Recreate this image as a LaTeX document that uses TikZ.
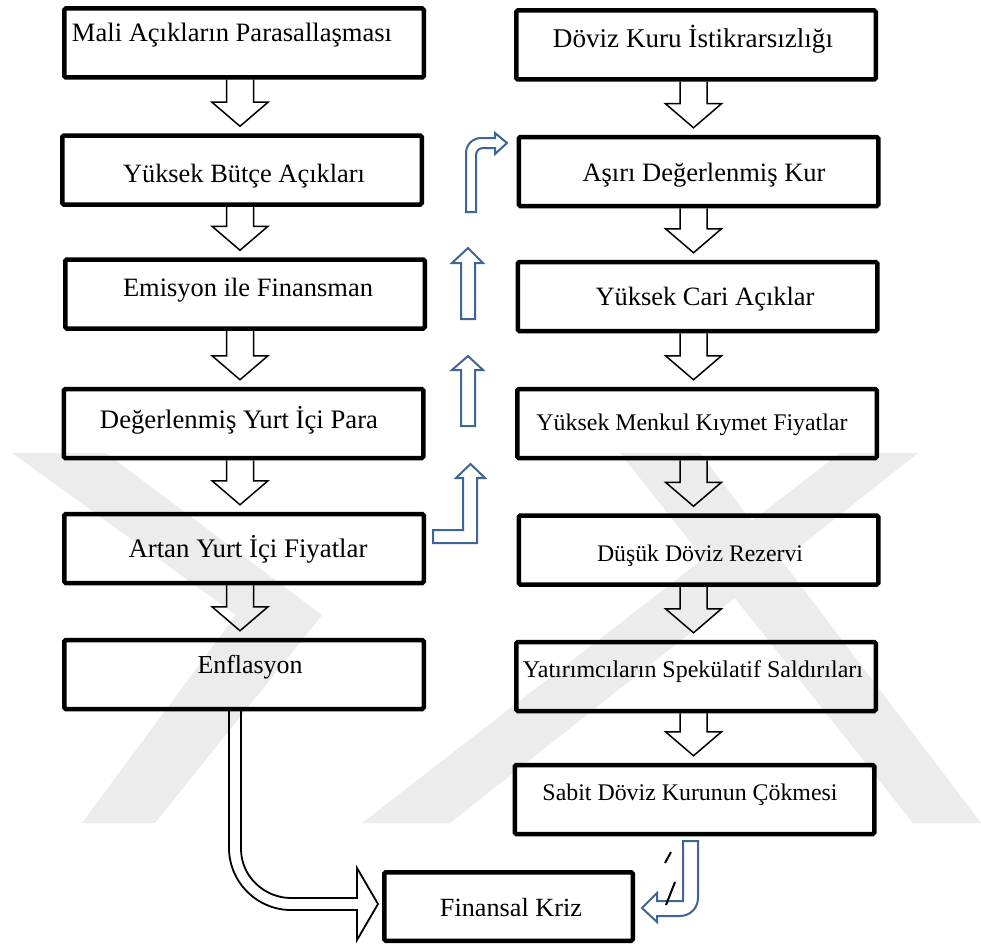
\documentclass[tikz,border=0pt]{standalone}
\usepackage{fontspec}
\usepackage{graphicx}
\setmainfont{Liberation Serif}
\usetikzlibrary{calc}
\definecolor{wm}{RGB}{236,236,236}
\definecolor{ablue}{RGB}{62,100,152}
\tikzset{
  box/.style={draw=black, line width=4.5pt, rounded corners=1.5pt, inner sep=0pt,
              minimum width=359.5pt, minimum height=69pt},
  lbl/.style={inner sep=0pt, anchor=base, text=black},
  blk/.style={draw=black, line width=1.5pt, line join=miter},
  blu/.style={draw=ablue, line width=2pt, line join=miter},
  wmark/.style={fill=wm, draw=none},
  slash/.style={draw=black, line width=2pt}
}
\newcommand\dnarrow[3]{%
  \draw[blk] let \p1=(#1.south), \p2=(#2.north) in
    (#3pt-13.5pt,\y1) -- (#3pt-13.5pt,\y2+31pt) -- (#3pt-28pt,\y2+31pt) --
    (#3pt,\y2+7pt) -- (#3pt+28pt,\y2+31pt) -- (#3pt+13.5pt,\y2+31pt) --
    (#3pt+13.5pt,\y1);}
\begin{document}
\begin{tikzpicture}[x=1pt,y=-1pt]
\useasboundingbox (0,0) rectangle (981,947);
\fill[white] (0,0) rectangle (981,947);
% watermark
\path[wmark] (12,453) -- (106,453) -- (322,615) -- (155,823) -- (82,823) -- (236,615) -- cycle;
\path[wmark] (362,823) -- (450,823) -- (918,453) -- (840,453) -- cycle;
\path[wmark] (620,453) -- (700,453) -- (981,823) -- (913,823) -- cycle;
% left column
\node[box] (L1) at (244,43) {};
\node[box] (L2) at (242,170) {};
\node[box] (L3) at (245,294) {};
\node[box] (L4) at (243.5,423.5) {};
\node[box] (L5) at (244,548.5) {};
\node[box] (L6) at (244,674.5) {};
% right column
\node[box] (R1) at (696,45) {};
\node[box] (R2) at (698.5,171.5) {};
\node[box] (R3) at (697.5,296.5) {};
\node[box] (R4) at (697,423.5) {};
\node[box] (R5) at (698.5,550) {};
\node[box] (R6) at (696,676.5) {};
\node[box] (R7) at (694.5,799.5) {};
\node[box, minimum width=248.5pt, minimum height=68.5pt] (F) at (508.5,906.5) {};
% labels
\node[lbl] (tL1) at (232,42) {\resizebox{320pt}{!}{Mali Açıkların Parasallaşması}};
\node[lbl] (tL2) at (244,182) {\resizebox{242pt}{!}{Yüksek Bütçe Açıkları}};
\node[lbl] (tL3) at (248,296) {\resizebox{250pt}{!}{Emisyon ile Finansman}};
\node[lbl] (tL4) at (239,428) {\resizebox{278pt}{!}{Değerlenmiş Yurt İçi Para}};
\node[lbl] (tL5) at (248,557) {\resizebox{239pt}{!}{Artan Yurt İçi Fiyatlar}};
\node[lbl] (tL6) at (250,673) {\resizebox{105pt}{!}{Enflasyon}};
\node[lbl] (tR1) at (693,48) {\resizebox{280pt}{!}{Döviz Kuru İstikrarsızlığı}};
\node[lbl] (tR2) at (704,181) {\resizebox{243pt}{!}{Aşırı Değerlenmiş Kur}};
\node[lbl] (tR3) at (705,305) {\resizebox{219pt}{!}{Yüksek Cari Açıklar}};
\node[lbl] (tR4) at (692,430) {\resizebox{311pt}{!}{Yüksek Menkul Kıymet Fiyatlar}};
\node[lbl] (tR5) at (700,561) {\resizebox{206pt}{!}{Düşük Döviz Rezervi}};
\node[lbl] (tR6) at (693,677) {\resizebox{340pt}{!}{Yatırımcıların Spekülatif Saldırıları}};
\node[lbl] (tR7) at (690,800) {\resizebox{295pt}{!}{Sabit Döviz Kurunun Çökmesi}};
\node[lbl] (tF) at (511,916) {\resizebox{142pt}{!}{Finansal Kriz}};
% down block arrows
\dnarrow{L1}{L2}{240}
\dnarrow{L2}{L3}{240}
\dnarrow{L3}{L4}{240}
\dnarrow{L4}{L5}{240}
\dnarrow{L5}{L6}{240}
\dnarrow{R1}{R2}{693.5}
\dnarrow{R2}{R3}{693.5}
\dnarrow{R3}{R4}{693.5}
\dnarrow{R4}{R5}{693.5}
\dnarrow{R5}{R6}{693.5}
\dnarrow{R6}{R7}{693.5}
% curved black arrow Enflasyon -> Finansal Kriz
\draw[blk, line width=1.8pt] (229,711) -- (229,848) .. controls (229,882) and (257,910) .. (291,910)
  -- (357,910) -- (357,940) -- (378,904) -- (357,868) -- (357,898) -- (291,898)
  .. controls (264,898) and (241,876) .. (241,849) -- (241,711);
% blue arrows
\draw[blu] (466,212) -- (466,153) .. controls (466,144.7) and (472.7,138) .. (481,138)
  -- (495,138) -- (495,133) -- (507,143) -- (495,154) -- (495,148) -- (483,148)
  .. controls (479.1,148) and (476,151.1) .. (476,155) -- (476,212) -- cycle;
\draw[blu] (461,319) -- (461,263) -- (452,263) -- (468,248) -- (483,263) -- (475,263) -- (475,319) -- cycle;
\draw[blu] (461,426) -- (461,370) -- (452,370) -- (468,356) -- (483,370) -- (475,370) -- (475,426) -- cycle;
\draw[blu] (433,530) -- (463,530) -- (463,478) -- (456,478) -- (470.5,464) -- (485,478) -- (477,478) -- (477,543) -- (433,543) -- cycle;
\draw[blu] (683,841) -- (698,841) -- (698,898) .. controls (698,908) and (690,916) .. (680,916)
  -- (657,916) -- (657,922) -- (642,908) -- (657,893) -- (657,901) -- (683,901) -- cycle;
% small slashes
\draw[slash] (665,863) -- (671,852);
\draw[slash] (666,905) -- (675,882);
\end{tikzpicture}
\end{document}
